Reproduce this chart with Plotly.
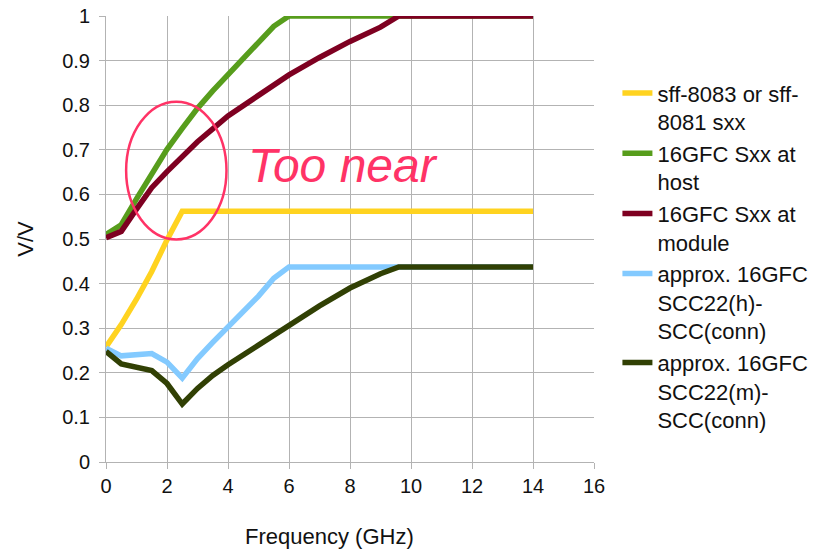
import plotly.graph_objects as go

# Data
x_sff = [0, 0.5, 1.0, 1.5, 2.0, 2.5, 14]
y_sff = [0.258, 0.308, 0.365, 0.427, 0.498, 0.5625, 0.5625]

x_host = [0, 0.5, 1.0, 1.5, 2.0, 2.5, 3.0, 3.5, 4.0, 4.5, 5.0, 5.5, 6.0, 14]
y_host = [0.51, 0.532, 0.59, 0.648, 0.701, 0.748, 0.793, 0.832, 0.868, 0.905, 0.941, 0.977, 1.0, 1.0]

x_mod = [0, 0.5, 1.0, 1.5, 2.0, 2.5, 3.0, 3.5, 4.0, 5.0, 6.0, 7.0, 8.0, 9.0, 9.6, 14]
y_mod = [0.503, 0.517, 0.567, 0.615, 0.651, 0.685, 0.718, 0.747, 0.776, 0.822, 0.868, 0.907, 0.943, 0.975, 1.0, 1.0]

x_sccH = [0, 0.5, 1.5, 2.0, 2.5, 3.0, 3.5, 4.0, 4.5, 5.0, 5.5, 6.0, 14]
y_sccH = [0.255, 0.238, 0.243, 0.224, 0.188, 0.232, 0.268, 0.302, 0.337, 0.372, 0.412, 0.4375, 0.4375]

x_sccM = [0, 0.5, 1.5, 2.0, 2.5, 3.0, 3.5, 4.0, 5.0, 6.0, 7.0, 8.0, 9.0, 9.6, 14]
y_sccM = [0.248, 0.22, 0.205, 0.176, 0.13, 0.165, 0.194, 0.218, 0.262, 0.307, 0.35, 0.39, 0.422, 0.4375, 0.4375]

names = [
    "sff-8083 or sff-<br>8081 sxx",
    "16GFC Sxx at<br>host",
    "16GFC Sxx at<br>module",
    "approx. 16GFC<br>SCC22(h)-<br>SCC(conn)",
    "approx. 16GFC<br>SCC22(m)-<br>SCC(conn)",
]
colors = ["#ffd320", "#579d1c", "#7e0021", "#83caff", "#314004"]
xs = [x_sff, x_host, x_mod, x_sccH, x_sccM]
ys = [y_sff, y_host, y_mod, y_sccH, y_sccM]

x_ticks = [0, 2, 4, 6, 8, 10, 12, 14, 16]
y_ticks = [0, 0.1, 0.2, 0.3, 0.4, 0.5, 0.6, 0.7, 0.8, 0.9, 1]
y_labels = ["0", "0.1", "0.2", "0.3", "0.4", "0.5", "0.6", "0.7", "0.8", "0.9", "1"]

# Annotation ellipse bounds (data units)
ell_x = [0.66, 3.95]
ell_y = [0.499, 0.808]

FONT = "Liberation Sans, Arial, sans-serif"

fig = go.Figure()
for xv, yv, n, c in zip(xs, ys, names, colors):
    fig.add_trace(go.Scatter(x=xv, y=yv, mode="lines", name=n,
                             line=dict(color=c, width=5.5)))

fig.add_shape(type="circle", xref="x", yref="y",
              x0=ell_x[0], x1=ell_x[1], y0=ell_y[0], y1=ell_y[1],
              line=dict(color="#ff3366", width=2.5))

fig.add_annotation(x=4.58, y=0.665, xref="x", yref="y", text="<i>Too near</i>",
                   showarrow=False, xanchor="left", yanchor="middle",
                   font=dict(size=48, color="#ff3366", family=FONT))

# x-axis title (offset left of centre as in the reference)
fig.add_annotation(x=0.459, y=-0.168, xref="paper", yref="paper", text="Frequency (GHz)",
                   showarrow=False, xanchor="center", yanchor="middle",
                   font=dict(size=22, color="#111111", family=FONT))

fig.update_layout(
    width=816, height=550,
    margin=dict(l=106, r=222, t=16, b=88, autoexpand=False),
    paper_bgcolor="white", plot_bgcolor="white",
    font=dict(family=FONT, size=20, color="#111111"),
    showlegend=True,
    legend=dict(x=1.048, y=0.874, xanchor="left", yanchor="top", valign="top",
                font=dict(size=22, color="#111111"),
                itemwidth=30, tracegroupgap=0, bgcolor="rgba(0,0,0,0)"),
)
fig.update_xaxes(range=[0, 16], tickvals=x_ticks, showgrid=True, gridcolor="#b3b3b3",
                 gridwidth=1, zeroline=False, showline=True, linecolor="#b3b3b3",
                 mirror=False, ticks="outside", ticklen=6, tickcolor="#b3b3b3")
fig.update_yaxes(range=[0, 1], tickvals=y_ticks, ticktext=y_labels, showgrid=True,
                 gridcolor="#b3b3b3", gridwidth=1, zeroline=False, showline=True,
                 linecolor="#b3b3b3", ticks="outside", ticklen=6, tickcolor="#b3b3b3",
                 ticklabelstandoff=5,
                 title=dict(text="V/V", font=dict(size=22), standoff=22))

fig.write_html("out.html", config={"displayModeBar": False},
               post_script="document.body.style.margin='0';")
